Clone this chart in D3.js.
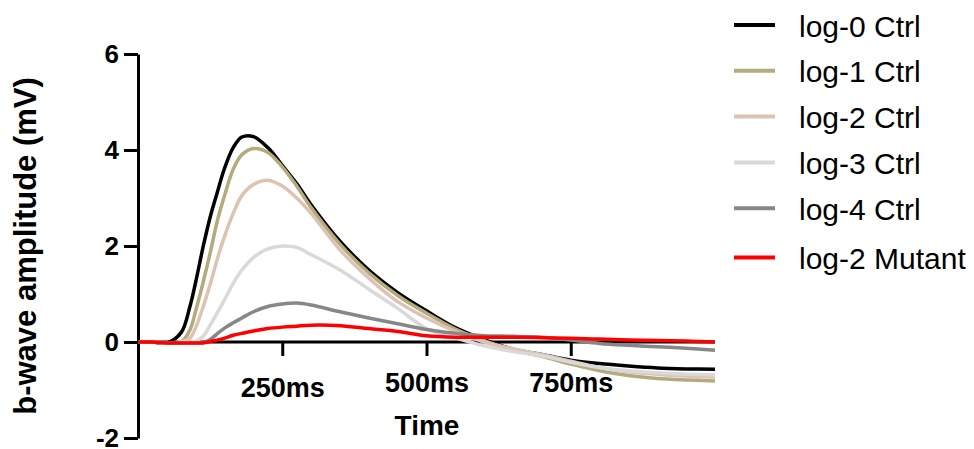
<!DOCTYPE html>
<html>
<head>
<meta charset="utf-8">
<script src="https://cdn.jsdelivr.net/npm/d3@7"></script>
<style>
  body { margin: 0; background: #fff; }
  svg { display: block; font-family: Arial, "Liberation Sans", sans-serif; }
</style>
</head>
<body>
<script>
// Time points (ms) shared by every trace
var times = [0, 25, 50, 75, 90, 100, 113, 125, 137, 150, 165, 180, 200, 225, 250, 275, 300,
    350, 400, 450, 500, 550, 600, 650, 700, 750, 800, 850, 900, 950, 1000];

// b-wave amplitude (mV)
var log0Ctrl = [0, 0, -0.02, 0.2, 0.74, 1.25, 1.99, 2.6, 3.1, 3.62, 4.05, 4.27, 4.28, 4.05, 3.68, 3.3, 2.86,
    2.1, 1.5, 1.03, 0.65, 0.3, 0.05, -0.15, -0.26, -0.38, -0.45, -0.5, -0.54, -0.56, -0.57];
var log1Ctrl = [0, 0, -0.02, 0, 0.25, 0.65, 1.25, 1.85, 2.5, 3.05, 3.6, 3.9, 4.03, 3.95, 3.65, 3.25, 2.8,
    2.04, 1.44, 0.97, 0.6, 0.27, 0.03, -0.17, -0.3, -0.46, -0.6, -0.7, -0.76, -0.79, -0.81];
var log2Ctrl = [0, 0, -0.02, 0, 0.08, 0.3, 0.74, 1.2, 1.71, 2.2, 2.68, 3.05, 3.28, 3.37, 3.25, 3.0, 2.68,
    1.92, 1.33, 0.84, 0.5, 0.22, 0.0, -0.14, -0.26, -0.4, -0.53, -0.62, -0.67, -0.71, -0.73];
var log3Ctrl = [0, 0, -0.02, 0, 0, 0.02, 0.12, 0.35, 0.6, 0.88, 1.22, 1.5, 1.76, 1.94, 2.0, 1.97, 1.82,
    1.5, 1.1, 0.7, 0.28, 0.09, -0.08, -0.2, -0.29, -0.42, -0.53, -0.6, -0.64, -0.67, -0.69];
var log4Ctrl = [0, 0, -0.02, -0.02, -0.02, -0.02, -0.01, 0.05, 0.17, 0.29, 0.4, 0.5, 0.63, 0.74, 0.79, 0.81, 0.77,
    0.63, 0.5, 0.38, 0.26, 0.18, 0.13, 0.12, 0.1, 0.04, -0.03, -0.07, -0.1, -0.13, -0.17];
var log2Mutant = [0, 0, -0.02, -0.02, -0.02, -0.02, -0.02, 0.01, 0.04, 0.08, 0.14, 0.18, 0.23, 0.28, 0.31, 0.33, 0.35,
    0.34, 0.28, 0.22, 0.13, 0.1, 0.1, 0.1, 0.09, 0.08, 0.06, 0.04, 0.03, 0.02, 0.0];

var seriesNames = ["log-0 Ctrl", "log-1 Ctrl", "log-2 Ctrl", "log-3 Ctrl", "log-4 Ctrl", "log-2 Mutant"];
var seriesValues = [log0Ctrl, log1Ctrl, log2Ctrl, log3Ctrl, log4Ctrl, log2Mutant];
var seriesColors = ["#000000", "#b3ab7d", "#dcc3b2", "#d9d9d9", "#878787", "#ff0000"];

var xTicks = [250, 500, 750];
var yTicks = [-2, 0, 2, 4, 6];

var width = 974, height = 449;

var x = d3.scaleLinear().domain([0, 1000]).range([138, 715]);
var y = d3.scaleLinear().domain([-2, 6]).range([438, 54]);

var svg = d3.select("body").append("svg")
    .attr("width", width)
    .attr("height", height);

// y axis
var yAxis = d3.axisLeft(y).tickValues(yTicks).tickFormat(function(d) { return String(d); })
    .tickSize(14).tickSizeOuter(0).tickPadding(5);
var gy = svg.append("g")
    .attr("transform", "translate(" + x(0) + ",0)")
    .call(yAxis);
gy.selectAll("path, line").attr("stroke", "#000").attr("stroke-width", 3);
gy.selectAll("text")
    .attr("font-size", 26).attr("font-weight", "bold").attr("fill", "#000")
    .attr("font-family", "Arial, 'Liberation Sans', sans-serif");

// x axis drawn at y = 0
var xAxis = d3.axisBottom(x).tickValues(xTicks).tickFormat(function(d) { return d + "ms"; })
    .tickSize(14).tickSizeOuter(0);
var gx = svg.append("g")
    .attr("transform", "translate(0," + y(0) + ")")
    .call(xAxis);
gx.select(".domain").attr("d", "M" + x(0) + ",0H" + x(1000));
gx.selectAll("path, line").attr("stroke", "#000").attr("stroke-width", 3);
gx.selectAll("text")
    .attr("font-size", 27).attr("font-weight", "bold").attr("fill", "#000")
    .attr("font-family", "Arial, 'Liberation Sans', sans-serif")
    .attr("dy", 0)
    .attr("y", function(d, i) { return i == 0 ? 55 : 50; });

// traces
var line = d3.line()
    .x(function(d) { return x(d[0]); })
    .y(function(d) { return y(d[1]); })
    .curve(d3.curveCatmullRom.alpha(0.5));

seriesValues.forEach(function(vals, i) {
    svg.append("path")
        .datum(times.map(function(t, j) { return [t, vals[j]]; }))
        .attr("fill", "none")
        .attr("stroke", seriesColors[i])
        .attr("stroke-width", 3.5)
        .attr("stroke-linejoin", "round")
        .attr("d", line);
});

// axis titles
svg.append("text")
    .attr("transform", "translate(36,246) rotate(-90)")
    .attr("text-anchor", "middle")
    .attr("font-size", 31).attr("font-weight", "bold")
    .text("b-wave amplitude (mV)");

svg.append("text")
    .attr("x", 427).attr("y", 435)
    .attr("text-anchor", "middle")
    .attr("font-size", 28).attr("font-weight", "bold")
    .text("Time");

// legend
var legend = svg.append("g");
seriesNames.forEach(function(name, i) {
    var ly = 25 + i * 45.8 + (i == 5 ? 3.6 : 0);
    legend.append("line")
        .attr("x1", 734).attr("x2", 775)
        .attr("y1", ly).attr("y2", ly)
        .attr("stroke", seriesColors[i])
        .attr("stroke-width", 4);
    legend.append("text")
        .attr("x", 799).attr("y", ly + 11.5)
        .attr("font-size", 30)
        .text(name);
});
</script>
</body>
</html>
